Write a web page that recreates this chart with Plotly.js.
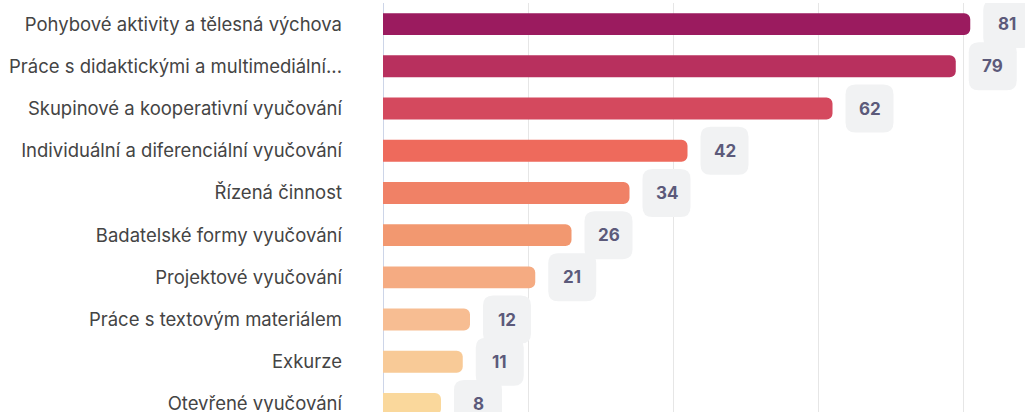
<!DOCTYPE html>
<html>
<head>
<meta charset="utf-8">
<script src="https://cdn.plot.ly/plotly-3.0.1.min.js"></script>
<style>html,body{margin:0;padding:0;overflow:hidden;background:#fff}</style>
</head>
<body>
<div id="chart" style="width:1025px;height:412px"></div>
<script>
const categories = [
  "Pohybové aktivity a tělesná výchova",
  "Práce s didaktickými a multimediální...",
  "Skupinové a kooperativní vyučování",
  "Individuální a diferenciální vyučování",
  "Řízená činnost",
  "Badatelské formy vyučování",
  "Projektové vyučování",
  "Práce s textovým materiálem",
  "Exkurze",
  "Otevřené vyučování"
];
const values = [81, 79, 62, 42, 34, 26, 21, 12, 11, 8];
const barColors = ["#9b1b5f", "#b8305e", "#d4495e", "#ee6a5c", "#f08166", "#f29870", "#f5ab82", "#f7bd92", "#f8ca97", "#fad89c"];

const boxPath = "M 23 -24 H 51 Q 61 -24 61 -14 V 14 Q 61 24 51 24 H 23 Q 13 24 13 14 V -14 Q 13 -24 23 -24 Z";

const shapes = values.map((v, i) => ({
  type: "path",
  xref: "x", yref: "y",
  xsizemode: "pixel", ysizemode: "pixel",
  xanchor: v, yanchor: i,
  path: boxPath,
  fillcolor: "#f1f2f3",
  line: {width: 0},
  layer: "above"
}));

const annotations = values.map((v, i) => ({
  x: v, y: categories[i], xref: "x", yref: "y",
  text: "<b>" + v + "</b>",
  showarrow: false,
  xanchor: "center", yanchor: "middle",
  xshift: 37,
  font: {family: "Inter", size: 17, color: "#5c5a7a"}
}));

const trace = {
  type: "bar",
  orientation: "h",
  x: values,
  y: categories,
  marker: {color: barColors, cornerradius: 6},
  hoverinfo: "none"
};

const layout = {
  width: 1025, height: 412,
  margin: {l: 383, r: 0, t: 3, b: 0, pad: 0},
  paper_bgcolor: "#ffffff",
  plot_bgcolor: "#ffffff",
  bargap: 0.48,
  showlegend: false,
  font: {family: "Inter", size: 18, color: "#444444"},
  xaxis: {
    range: [0, 88.55],
    dtick: 20,
    showticklabels: false,
    showgrid: true,
    gridcolor: "#e6e6e6",
    gridwidth: 1,
    zeroline: true,
    zerolinecolor: "#cdd5e8",
    zerolinewidth: 1,
    fixedrange: true
  },
  yaxis: {
    type: "category",
    range: [9.19, -0.5],
    showgrid: false,
    zeroline: false,
    ticks: "",
    ticklabelstandoff: 40,
    tickfont: {family: "Inter", size: 18.5, color: "#444444"},
    fixedrange: true
  },
  shapes: shapes,
  annotations: annotations
};

Plotly.newPlot("chart", [trace], layout, {displayModeBar: false, staticPlot: true});
</script>
</body>
</html>
